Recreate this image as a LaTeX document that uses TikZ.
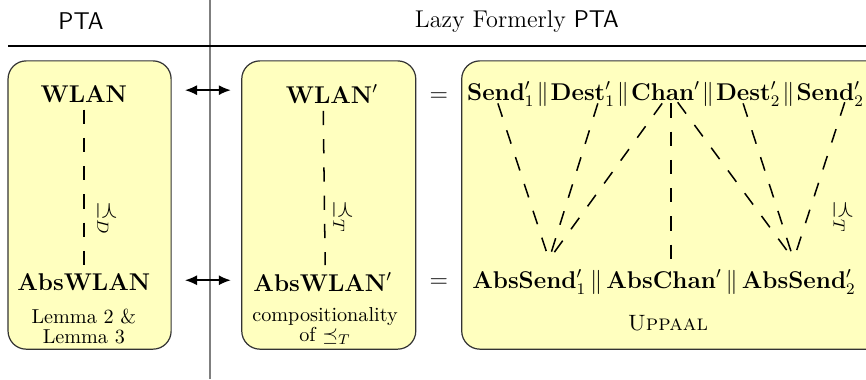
\documentclass[tikz,border=0pt]{standalone}
\usepackage{amsmath,amssymb}
\usepackage{xcolor}
\usepackage{tikz}
\usetikzlibrary{calc,arrows.meta}
\definecolor{boxfill}{HTML}{FFFFBF}
\definecolor{rule}{HTML}{7F7F7F}
\tikzset{
  model/.style={draw=black!80, fill=boxfill, rounded corners=9pt, line width=0.6pt},
  refine/.style={draw=black, line width=0.75pt, dash pattern=on 7pt off 7pt},
  lab/.style={font=\large},
  head/.style={font=\large},
  note/.style={align=center, font=\normalsize},
  rel/.style={rotate=-90, font=\large},
  link/.style={{Latex[length=6pt,width=5pt]}-{Latex[length=6pt,width=5pt]}, line width=0.8pt},
  sep/.style={draw=rule, line width=1pt},
}
\newcommand{\pll}[1][3mu]{\mskip#1\|\mskip#1}

\begin{document}
\begin{tikzpicture}
  \useasboundingbox (0,0) rectangle (15.08,6.60);
  \clip (0,0) rectangle (15.08,6.60);

  % header
  \draw[sep] (3.66,0) -- (3.66,6.60);
  \draw[line width=0.8pt] (0.14,5.80) -- (15.08,5.80);
  \node[head] (hpta) at (1.41,6.23) {\textsf{PTA}};
  \node[head] (hlazy) at (9.00,6.23) {Lazy Formerly \textsf{PTA}};

  % boxes
  \draw[model] (0.14,0.52) rectangle (2.98,5.54);
  \draw[model] (4.21,0.52) rectangle (7.24,5.54);
  \draw[model] (8.04,0.52) rectangle (15.40,5.54);

  % PTA side
  \node[lab] (wlan) at (1.46,4.96) {$\mathbf{WLAN}$};
  \node[lab] (abswlan) at (1.46,1.69) {$\mathbf{AbsWLAN}$};
  \draw[refine] (wlan) -- (abswlan);
  \node[rel] (reld) at (1.86,2.80) {$\preceq_D$};
  \node[note] (lem) at (1.46,0.92) {Lemma 2 \&\\[-2pt] Lemma 3};

  % lazy side
  \node[lab] (wlanp) at (5.78,4.96) {$\mathbf{WLAN}'$};
  \node[lab] (abswlanp) at (5.62,1.69) {$\mathbf{AbsWLAN}'$};
  \draw[refine] ([xshift=-4.3pt]wlanp.south) -- ([xshift=1.2pt]abswlanp.north);
  \node[rel] (relt) at (5.97,2.82) {$\preceq_T$};
  \node[note] (comp) at (5.66,0.92) {compositionality\\[-2pt] of $\preceq_T$};

  \coordinate (la) at (3.22,5.03);
  \coordinate (ra) at (4.02,5.03);
  \coordinate (lb) at (3.22,1.72);
  \coordinate (rb) at (4.02,1.72);
  \draw[link] (la) -- (ra);
  \draw[link] (lb) -- (rb);

  \node[lab] (eqa) at (7.64,4.91) {$=$};
  \node[lab] (eqb) at (7.64,1.67) {$=$};

  % uppaal network
  \node[lab, anchor=west] (net) at (8.01,4.96)
    {$\mathbf{Send}'_1\pll[1.5mu]\mathbf{Dest}'_1\pll[1.5mu]\mathbf{Chan}'\pll[1.5mu]\mathbf{Dest}'_2\pll[1.5mu]\mathbf{Send}'_2$};
  \node[lab, anchor=west] (absnet) at (8.10,1.69)
    {$\mathbf{AbsSend}'_1\pll\mathbf{AbsChan}'\pll\mathbf{AbsSend}'_2$};
  \node[font=\fontsize{11pt}{13pt}\selectfont] (upp) at (11.63,0.97) {\textsc{Uppaal}};

  \coordinate (s1) at (8.67,4.80);
  \coordinate (d1) at (10.41,4.80);
  \coordinate (cl) at (11.53,4.80);
  \coordinate (cm) at (11.68,4.80);
  \coordinate (cr) at (11.80,4.82);
  \coordinate (d2) at (12.94,4.80);
  \coordinate (s2) at (14.71,4.82);
  \coordinate (as1) at (9.56,2.08);
  \coordinate (ac) at (11.68,2.04);
  \coordinate (as2) at (13.82,2.08);

  \draw[refine] (s1) -- (as1);
  \draw[refine] (d1) -- (as1);
  \draw[refine] (cl) -- (as1);
  \draw[refine] (cm) -- (ac);
  \draw[refine] (cr) -- (as2);
  \draw[refine] (d2) -- (as2);
  \draw[refine] (s2) -- (as2);
  \node[rel] (relt2) at (14.68,2.82) {$\preceq_T$};
\end{tikzpicture}
\end{document}
